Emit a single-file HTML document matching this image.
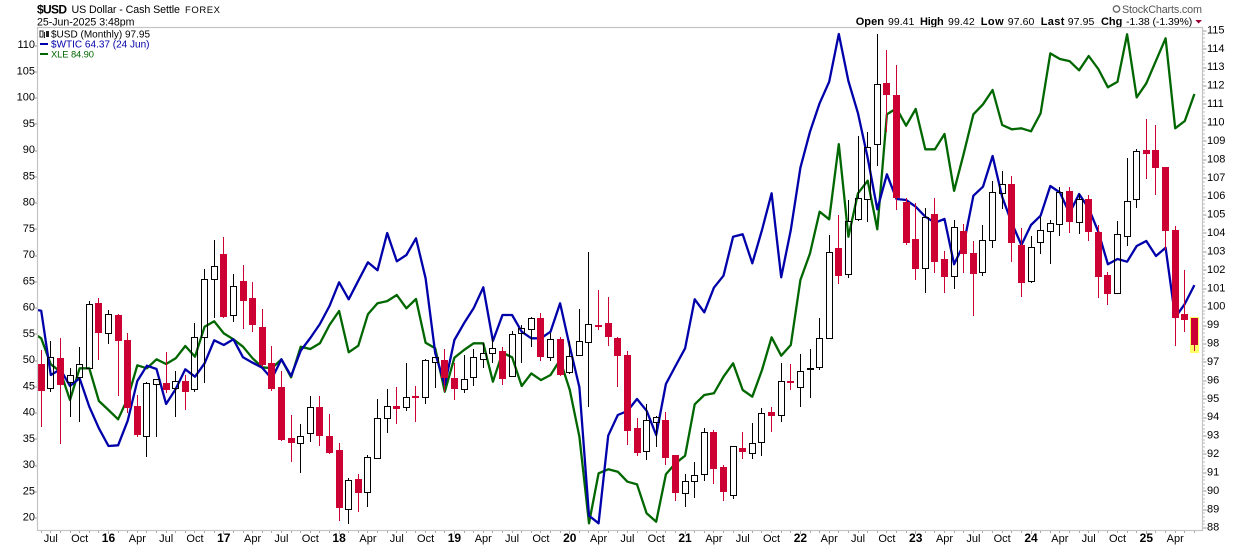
<!DOCTYPE html>
<html lang="en">
<head>
<meta charset="utf-8">
<title>$USD US Dollar monthly chart</title>
<style>
html,body{margin:0;padding:0;background:#fff;width:1240px;height:546px;overflow:hidden}
svg{display:block;font-family:"Liberation Sans",Arial,sans-serif}
</style>
</head>
<body>
<svg id="chart" xmlns="http://www.w3.org/2000/svg" width="1240" height="546" viewBox="0 0 1240 546">
  <defs><clipPath id="plot-clip"><rect x="38" y="28" width="1164" height="502"/></clipPath></defs>
  <g>
    <text x="37" y="13.5" font-size="12" font-weight="bold" textLength="30" lengthAdjust="spacing">$USD</text>
    <text x="71.5" y="13" font-size="10.7" textLength="108.5" lengthAdjust="spacing">US Dollar - Cash Settle</text>
    <text x="185" y="13" font-size="9.5" textLength="35" lengthAdjust="spacing">FOREX</text>
    <text x="37" y="25.5" font-size="10.6" textLength="97.5" lengthAdjust="spacing">25-Jun-2025 3:48pm</text>
    <circle cx="1116.5" cy="9" r="3.2" fill="none" stroke="#666" stroke-width="1.3"/>
    <text x="1122" y="13" font-size="10.8" fill="#555" textLength="80" lengthAdjust="spacing">StockCharts.com</text>
  </g>
  <g font-size="10.5">
    <text x="855.7" y="25" font-weight="bold" font-size="11" textLength="28.3" lengthAdjust="spacing">Open</text>
    <text x="888" y="25" textLength="26.4" lengthAdjust="spacing">99.41</text>
    <text x="920" y="25" font-weight="bold" font-size="11" textLength="23.7" lengthAdjust="spacing">High</text>
    <text x="948" y="25" textLength="26.7" lengthAdjust="spacing">99.42</text>
    <text x="980.7" y="25" font-weight="bold" font-size="11" textLength="23" lengthAdjust="spacing">Low</text>
    <text x="1007.7" y="25" textLength="26.7" lengthAdjust="spacing">97.60</text>
    <text x="1040.7" y="25" font-weight="bold" font-size="11" textLength="23.7" lengthAdjust="spacing">Last</text>
    <text x="1067.7" y="25" textLength="26.7" lengthAdjust="spacing">97.95</text>
    <text x="1101" y="25" font-weight="bold" font-size="11" textLength="21.3" lengthAdjust="spacing">Chg</text>
    <text x="1126" y="25" textLength="66.3" lengthAdjust="spacing">-1.38 (-1.39%)</text>
    <polygon points="1195.3,20 1202,20 1198.6,23.5" fill="#990033"/>
  </g>
  <g id="lines" clip-path="url(#plot-clip)"></g>
  <rect x="1190" y="317" width="9" height="36" fill="#ffff66"/>
  <g id="candles" shape-rendering="crispEdges"></g>
  <g id="axes"></g>
  <rect x="37.5" y="27.5" width="1165" height="503" fill="none" stroke="#c4c4c4" stroke-width="1.2"/>
  <g font-size="10">
    <g>
      <g shape-rendering="crispEdges">
        <rect x="40" y="31" width="3" height="6" fill="none" stroke="#222"/>
        <rect x="44" y="32" width="1" height="6" fill="#222"/>
        <rect x="46" y="31" width="3" height="6" fill="#222"/>
      </g>
      <text x="51" y="37.5" textLength="99" lengthAdjust="spacing">$USD (Monthly) 97.95</text>
    </g>
    <g>
      <rect x="40" y="43" width="8" height="2" fill="#0000aa"/>
      <text x="51" y="47.5" fill="#0000aa" textLength="98.5" lengthAdjust="spacing">$WTIC 64.37 (24 Jun)</text>
    </g>
    <g>
      <rect x="40" y="53" width="8" height="2" fill="#006600"/>
      <text x="51" y="57.5" fill="#006600" font-size="9.4" textLength="43" lengthAdjust="spacing">XLE 84.90</text>
    </g>
  </g>
</svg>
<script>
const categories = ["2015-05","2015-06","2015-07","2015-08","2015-09","2015-10","2015-11","2015-12",
"2016-01","2016-02","2016-03","2016-04","2016-05","2016-06","2016-07","2016-08","2016-09","2016-10","2016-11","2016-12",
"2017-01","2017-02","2017-03","2017-04","2017-05","2017-06","2017-07","2017-08","2017-09","2017-10","2017-11","2017-12",
"2018-01","2018-02","2018-03","2018-04","2018-05","2018-06","2018-07","2018-08","2018-09","2018-10","2018-11","2018-12",
"2019-01","2019-02","2019-03","2019-04","2019-05","2019-06","2019-07","2019-08","2019-09","2019-10","2019-11","2019-12",
"2020-01","2020-02","2020-03","2020-04","2020-05","2020-06","2020-07","2020-08","2020-09","2020-10","2020-11","2020-12",
"2021-01","2021-02","2021-03","2021-04","2021-05","2021-06","2021-07","2021-08","2021-09","2021-10","2021-11","2021-12",
"2022-01","2022-02","2022-03","2022-04","2022-05","2022-06","2022-07","2022-08","2022-09","2022-10","2022-11","2022-12",
"2023-01","2023-02","2023-03","2023-04","2023-05","2023-06","2023-07","2023-08","2023-09","2023-10","2023-11","2023-12",
"2024-01","2024-02","2024-03","2024-04","2024-05","2024-06","2024-07","2024-08","2024-09","2024-10","2024-11","2024-12",
"2025-01","2025-02","2025-03","2025-04","2025-05","2025-06"];

const usdOpen = [null,96.89,95.59,97.22,95.91,96.22,96.67,100.20,98.57,99.55,98.19,94.63,92.98,95.81,95.86,95.59,95.97,95.53,98.36,101.51,
102.88,99.55,101.41,100.48,98.92,96.95,95.64,92.87,92.60,93.18,94.56,93.00,92.24,89.02,90.67,89.94,91.79,93.96,94.63,94.56,95.17,95.10,97.03,97.13,
96.13,95.53,96.19,97.16,97.49,97.61,96.24,98.57,98.79,99.39,97.27,98.25,96.46,97.38,98.09,99.03,99.12,98.32,97.38,93.42,92.17,93.78,93.87,91.97,
89.89,90.54,90.92,93.20,91.32,89.78,92.35,92.06,92.66,94.30,94.12,95.99,95.64,96.65,96.73,98.30,103.19,101.78,104.76,105.85,108.84,112.15,111.51,105.72,
103.69,102.10,105.05,102.61,101.67,104.13,102.92,101.89,103.62,106.18,106.68,103.37,101.40,103.52,104.11,104.49,106.28,104.60,105.85,104.07,101.72,100.75,103.84,105.85,
108.51,108.51,107.59,104.17,99.62,99.41];
const usdClose = [null,95.46,97.30,95.78,96.33,96.92,100.15,98.61,99.61,98.17,94.54,93.05,95.86,96.11,95.51,96.00,95.40,98.39,101.51,102.21,
99.48,101.13,100.34,99.04,96.85,95.57,92.78,92.64,93.02,94.56,93.02,92.09,89.09,90.59,89.92,91.84,93.96,94.61,94.48,95.10,95.06,97.11,97.27,96.16,
95.57,96.11,97.27,97.49,97.76,96.11,98.52,98.88,99.39,97.30,98.25,96.33,97.36,98.14,99.06,98.97,98.36,97.36,93.29,92.09,93.85,94.01,91.82,89.92,
90.54,90.87,93.20,91.22,89.98,92.44,92.15,92.60,94.23,94.10,95.97,95.89,96.51,96.67,98.30,102.97,101.70,104.66,105.90,108.67,112.09,111.53,105.94,103.49,
102.08,104.87,102.46,101.65,104.33,102.90,101.81,103.62,106.23,106.66,103.49,101.32,103.24,104.17,104.55,106.23,104.63,105.85,104.09,101.65,100.73,103.95,105.74,108.49,
108.33,107.57,104.15,99.41,99.30,97.95];
const usdHigh = [null,97.67,98.16,98.32,96.68,97.82,100.33,100.48,99.84,99.62,98.57,95.23,95.95,96.11,97.58,96.53,96.31,99.12,102.07,103.64,
103.80,101.79,102.28,101.36,99.88,97.89,96.53,94.14,93.65,95.15,95.17,94.19,92.60,90.70,90.94,91.97,95.01,95.55,95.66,96.96,95.71,97.16,97.29,97.72,
96.96,97.40,97.72,98.05,98.30,97.85,98.68,99.03,99.44,99.66,98.57,98.36,98.17,99.89,102.97,100.93,100.55,98.37,97.61,93.96,94.74,94.09,94.30,91.97,
90.94,91.59,93.42,93.33,91.43,92.44,93.20,93.69,94.50,94.57,96.95,96.91,97.45,97.72,99.41,103.91,105.00,105.81,109.29,109.49,114.82,113.96,113.14,105.90,
105.63,105.36,105.90,103.04,104.73,104.51,103.60,104.45,106.84,107.39,107.11,104.29,103.86,104.91,104.73,106.50,106.50,106.14,106.08,104.45,101.89,104.67,108.09,108.56,
110.21,109.88,107.59,104.40,102.01,99.42];
const usdLow = [null,93.50,95.40,92.57,94.05,93.78,96.67,97.13,97.99,95.19,94.26,92.96,91.88,92.96,95.32,94.05,94.41,95.40,95.86,99.42,
99.42,99.20,98.81,98.66,96.73,95.46,92.73,91.60,90.97,92.69,92.47,92.02,88.40,88.24,88.89,89.16,91.79,93.18,93.67,94.37,93.78,94.75,95.62,95.40,
94.95,95.35,95.71,96.69,96.98,95.78,96.24,96.98,97.85,97.07,97.09,96.33,96.38,97.38,94.59,98.75,97.89,95.68,92.51,91.93,91.70,92.42,91.43,89.47,
89.16,89.65,90.56,90.41,89.49,89.58,91.75,91.75,91.93,93.22,93.78,95.50,94.59,95.08,96.58,98.30,101.25,101.59,104.67,104.63,107.67,109.52,105.27,103.37,
101.47,100.78,101.87,100.78,101.00,101.85,99.53,101.70,103.22,105.34,102.46,100.55,101.32,102.90,102.35,103.87,104.04,103.98,103.59,100.51,100.13,100.69,103.31,105.39,
106.97,106.10,103.10,97.89,98.65,97.60];

const wticClose = [59.81,59.49,47.24,48.33,45.14,46.61,41.20,37.09,33.72,33.85,38.54,46.10,49.01,48.38,41.72,44.57,48.33,46.92,49.47,53.85,
52.95,54.04,50.61,49.58,48.63,46.54,50.23,47.05,51.87,54.29,56.95,60.38,64.90,61.66,65.20,68.71,67.18,74.29,68.90,70.10,73.28,65.66,51.43,45.34,
53.91,57.09,59.94,63.94,53.72,58.67,58.67,55.49,54.23,54.23,55.49,60.90,52.63,44.90,20.44,18.99,35.68,39.62,40.38,42.67,40.44,35.81,45.53,48.95,
52.33,61.66,59.18,63.87,66.15,73.58,74.04,68.52,74.86,81.85,65.85,74.86,86.73,93.58,98.99,103.11,112.19,103.24,97.09,88.57,78.80,85.47,80.76,80.57,
79.30,77.39,76.25,76.95,68.33,72.19,81.39,83.11,88.96,81.15,76.19,72.00,75.81,77.58,83.24,82.00,78.04,81.72,78.99,74.54,68.33,69.34,68.82,71.81,
72.76,69.91,71.49,58.21,60.78,64.37];

const xleClose = [51.56,50.63,46.99,45.95,41.98,46.43,46.43,41.84,40.58,39.27,42.22,46.85,46.43,47.69,47.03,47.83,49.55,48.05,52.26,53.02,
51.33,50.49,49.46,47.83,46.57,46.43,47.69,45.16,49.46,49.13,49.93,52.50,54.46,48.67,49.60,54.00,55.54,55.86,56.71,54.84,56.15,50.02,49.23,43.14,
47.91,48.99,49.93,49.93,44.55,48.61,47.97,43.94,45.72,44.78,45.49,47.59,43.38,36.83,24.69,31.70,32.26,31.92,30.52,30.16,26.09,24.91,31.56,33.10,
34.17,41.38,42.68,42.92,45.25,47.13,43.38,42.44,46.19,50.77,48.19,49.69,58.81,62.55,68.39,67.32,77.88,64.88,70.97,72.74,65.92,82.05,82.89,80.45,
82.79,77.14,77.14,79.29,71.33,76.58,82.05,83.45,85.46,80.55,79.95,80.09,79.67,82.19,90.60,89.81,89.52,88.22,90.23,88.40,85.84,86.62,93.27,84.43,
86.40,89.57,92.71,80.09,81.11,84.90];

const leftTicks = [20,25,30,35,40,45,50,55,60,65,70,75,80,85,90,95,100,105,110];
const rightTicks = [88,89,90,91,92,93,94,95,96,97,98,99,100,101,102,103,104,105,106,107,108,109,110,111,112,113,114,115];
const monthNames = {"04":"Apr","07":"Jul","10":"Oct"};

const NS = "http://www.w3.org/2000/svg";
const xAxis = i => 41.2 + (i - 1) * 9.61;
const yLeft = v => 518 + (20 - v) * 5.25;
const yRight = v => 30.8 + (115 - v) * 18.42;
const yXle = v => 94 + (84.9 - v) * 7.13;

function make(tag, attrs, parent) {
  const el = document.createElementNS(NS, tag);
  for (const k in attrs) el.setAttribute(k, attrs[k]);
  parent.appendChild(el);
  return el;
}
const linesG = document.getElementById("lines");
const candlesG = document.getElementById("candles");
const axesG = document.getElementById("axes");

const wticPts = wticClose.map((v, i) => xAxis(i).toFixed(1) + "," + yLeft(v).toFixed(1)).join(" ");
const xlePts = xleClose.map((v, i) => xAxis(i).toFixed(1) + "," + yXle(v).toFixed(1)).join(" ");
const xleLine = make("polyline", {points: xlePts, fill: "none", stroke: "#006600", "stroke-width": 2.3, "stroke-linejoin": "round"}, linesG);


const wticLine = make("polyline", {points: wticPts, fill: "none", stroke: "#0000aa", "stroke-width": 2.3, "stroke-linejoin": "round"}, linesG);



categories.forEach((cat, i) => {
  if (usdOpen[i] === null) return;
  const down = usdClose[i] < usdOpen[i];
  const color = down ? "#cc0033" : "#000000";
  const c = Math.floor(xAxis(i)) + 0.5;
  const top = Math.round(yRight(Math.max(usdOpen[i], usdClose[i])));
  const bot = Math.round(yRight(Math.min(usdOpen[i], usdClose[i])));
  const g = make("g", {}, candlesG);
  
  
  make("rect", {x: c - 0.5, y: Math.round(yRight(usdHigh[i])), width: 1, height: Math.max(1, top - Math.round(yRight(usdHigh[i]))), fill: color}, g);
  make("rect", {x: c - 0.5, y: bot, width: 1, height: Math.max(1, Math.round(yRight(usdLow[i])) - bot), fill: color}, g);
  if (down) {
    make("rect", {x: c - 3.5, y: top, width: 7, height: Math.max(2, bot - top), fill: color}, g);
  } else {
    make("rect", {x: c - 3, y: top + 0.5, width: 6, height: Math.max(1, bot - top), fill: "none", stroke: color, "stroke-width": 1}, g);
  }
});

leftTicks.forEach(v => {
  const y = yLeft(v);
  const tick = make("rect", {x: 35, y: Math.round(y) - 0.5, width: 2.5, height: 1, fill: "#999"}, axesG);
  
  
  const t = make("text", {x: 35, y: y + 2.6, "font-size": 11, "text-anchor": "end"}, axesG);
  
  
  t.textContent = v;
});

rightTicks.forEach((v, n) => {
  const y = yRight(v);
  const tick = make("rect", {x: 1203, y: Math.round(y) - 0.5, width: 3.5, height: 1, fill: "#999"}, axesG);
  
  
  const t = make("text", {x: 1207, y: y + 2.6, "font-size": 11}, axesG);
  
  
  t.textContent = v;
  if (n < rightTicks.length - 1) {
    [0.2, 0.4, 0.6, 0.8].forEach(f => {
      const m = make("rect", {x: 1203, y: Math.round(yRight(v + f)) - 0.5, width: 2, height: 1, fill: "#bbb"}, axesG);
      
      
    });
  }
});

categories.forEach((cat, i) => {
  const x = Math.floor(xAxis(i)) + 0.5;
  const parts = cat.split("-");
  if (i > 0) {
    const tick = make("rect", {x: x - 0.5, y: 531, width: 1, height: parts[1] === "01" ? 3 : 2, fill: "#aaa"}, axesG);
    
    
  }
  const isYear = parts[1] === "01";
  const name = isYear ? parts[0].slice(2) : monthNames[parts[1]];
  if (!name) return;
  const t = make("text", {x: xAxis(i), y: 542, "font-size": isYear ? 12 : 11, "font-weight": isYear ? "bold" : "normal", "text-anchor": "middle"}, axesG);
  
  
  t.textContent = name;
});
</script>
</body>
</html>
